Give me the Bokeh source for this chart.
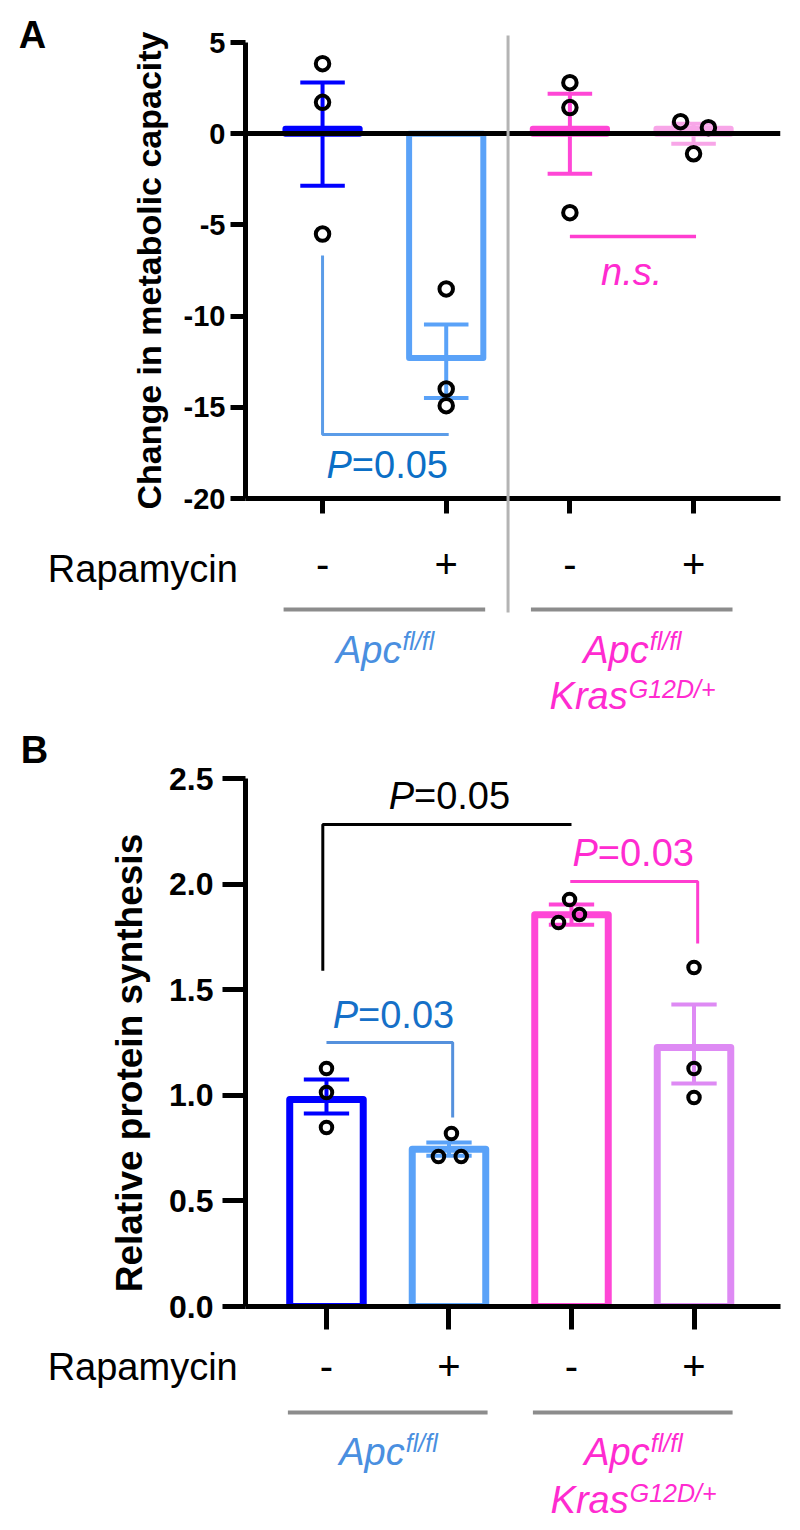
from bokeh.plotting import figure
from bokeh.layouts import column
from bokeh.models import FixedTicker, PrintfTickFormatter
from bokeh.core.properties import value
from bokeh.embed import file_html
from bokeh.resources import INLINE

FONT = "Liberation Sans"

# ---------------- data ----------------
categories = [1, 2, 3, 4]
rapamycin = ["-", "+", "-", "+"]
geno_main = [["Apc"], ["Apc", "Kras"]]
geno_sup = [["fl/fl"], ["fl/fl", "G12D/+"]]
geno_center = [1.5, 3.5]
geno_color = ["#4a8fe0", "#ff2bd0"]

# Panel A: change in metabolic capacity
a_ticks = [-20, -15, -10, -5, 0, 5]
a_mean = [0.27, -12.3, 0.27, 0.27]
a_err_hi = [2.81, -10.46, 2.19, 0.55]
a_err_lo = [-2.85, -14.49, -2.19, -0.55]
a_pts = [[3.84, 1.72, -5.50], [-8.51, -14.00, -14.91], [2.80, 1.43, -4.33], [0.66, 0.33, -1.10]]
a_jit = [[0, 0, 0], [0, 0, 0], [0, 0, 0], [-0.105, 0.12, 0.0]]
a_colors = ["#0000ff", "#5aa2f8", "#ff47d6", "#f8a6e8"]

# Panel B: relative protein synthesis
b_ticks = [0.0, 0.5, 1.0, 1.5, 2.0, 2.5]
b_mean = [0.98, 0.745, 1.855, 1.226]
b_err_hi = [1.075, 0.776, 1.903, 1.43]
b_err_lo = [0.914, 0.714, 1.807, 1.056]
b_pts = [[1.127, 1.013, 0.848], [0.71, 0.819, 0.71], [1.818, 1.927, 1.856], [1.605, 1.127, 0.99]]
b_jit = [[0, 0, 0], [-0.086, 0.02, 0.10], [-0.106, -0.016, 0.065], [0, 0, 0]]
b_colors = ["#0000ff", "#5aa2f8", "#ff47d6", "#de8af4"]

NB = "\u00a0"


def style_axes(p, tick_out, ylab_size, ytitle, ytitle_size, ytitle_standoff, y_ticks, fmt,
               x_standoff, y_standoff):
    p.outline_line_color = None
    p.grid.visible = False
    p.background_fill_color = "white"
    p.border_fill_color = "white"
    for ax in (p.xaxis[0], p.yaxis[0]):
        ax.axis_line_width = 5
        ax.axis_line_color = "black"
        ax.major_tick_line_width = 5
        ax.major_tick_line_color = "black"
        ax.major_tick_out = tick_out
        ax.major_tick_in = 0
        ax.minor_tick_out = 0
        ax.minor_tick_in = 0
        ax.major_label_text_font = FONT
        ax.major_label_text_color = "black"
    xa = p.xaxis[0]
    xa.ticker = FixedTicker(ticks=categories, minor_ticks=[])
    xa.major_label_overrides = {c: r for c, r in zip(categories, rapamycin)}
    xa.major_label_text_font_size = "40px"
    xa.major_label_standoff = x_standoff
    ya = p.yaxis[0]
    ya.ticker = FixedTicker(ticks=y_ticks, minor_ticks=[])
    ya.formatter = PrintfTickFormatter(format=fmt)
    ya.major_label_text_font_size = ylab_size
    ya.major_label_text_font_style = "bold"
    ya.major_label_standoff = y_standoff
    ya.axis_label = ytitle
    ya.axis_label_text_font = FONT
    ya.axis_label_text_font_style = "bold"
    ya.axis_label_text_font_size = ytitle_size
    ya.axis_label_text_color = "black"
    ya.axis_label_standoff = ytitle_standoff


def draw_data(p, mean, hi, lo, colors, bar_lw, cap):
    p.vbar(x=categories, top=mean, bottom=0, width=0.6, fill_color=None,
           line_color=colors, line_width=bar_lw, line_join="round")
    p.segment(x0=categories, y0=lo, x1=categories, y1=hi, line_color=colors, line_width=4)
    p.segment(x0=[c - cap for c in categories], y0=hi, x1=[c + cap for c in categories], y1=hi,
              line_color=colors, line_width=4)
    p.segment(x0=[c - cap for c in categories], y0=lo, x1=[c + cap for c in categories], y1=lo,
              line_color=colors, line_width=4)


def draw_points(p, pts, jit, pt_size):
    xs = [c + j for c, js in zip(categories, jit) for j in js]
    ys = [v for grp in pts for v in grp]
    p.scatter(xs, ys, size=pt_size, fill_color=None, line_color="black", line_width=4)


def make_txt(p, upp):
    # upp: data units per screen pixel on the y axis (baseline correction)
    def txt(x, y, text, size, style="normal", color="black", align="left", x_offset=0):
        px = float(size.replace("px", ""))
        p.text(x=[x], y=[y + 0.34 * px * upp], text=[text], x_offset=x_offset,
               text_font=value(FONT), text_font_size=value(size), text_font_style=value(style),
               text_color=color, text_align=value(align), text_baseline=value("alphabetic"),
               level="overlay")
    return txt


def p_text(txt, x, y, num, color):
    txt(x, y, "P", "38px", "italic", color, "right", -35)
    txt(x, y, "=" + num, "38px", "normal", color, "left", -35)


def genotype_labels(txt, base_main, base_sup):
    for gi, center in enumerate(geno_center):
        for li, (m, s) in enumerate(zip(geno_main[gi], geno_sup[gi])):
            off = 17 if m == "Apc" else -4
            txt(center, base_main[li], m, "38px", "italic", geno_color[gi], "right", off)
            txt(center, base_sup[li], s, "25px", "italic", geno_color[gi], "left", off + 1)


def group_lines(p, y):
    p.segment(x0=[c - 0.815 for c in geno_center], y0=[y] * len(geno_center),
              x1=[c + 0.815 for c in geno_center], y1=[y] * len(geno_center),
              line_color="#8c8c8c", line_width=4, level="overlay")


# ---------------- Panel A ----------------
pa = figure(width=800, height=728, x_range=(0.377, 4.703), y_range=(-20, 5), output_backend="svg",
            toolbar_location=None, min_border_left=245, min_border_right=20,
            min_border_top=42, min_border_bottom=230)
style_axes(pa, 15, "29px", "Change in metabolic capacity", "34px", 13, a_ticks, "%d", 36, 5)
ta = make_txt(pa, 25.0 / 456.0)
draw_data(pa, a_mean, a_err_hi, a_err_lo, a_colors, 6, 0.18)
pa.hspan(y=[0], line_color="black", line_width=5)
pa.multi_line(xs=[[1.0, 1.0, 2.02]], ys=[[-6.68, -16.49, -16.49]], line_color="#5b9ce8", line_width=3)
pa.segment(x0=[3.0], y0=[-5.64], x1=[4.02], y1=[-5.64], line_color="#ff3dd0", line_width=3.5)
draw_points(pa, a_pts, a_jit, 13.5)
p_text(ta, 1.52, -18.85, "0.05", "#0b6fc6")
ta(3.5, -8.27, "n.s.", "38px", "italic", "#ff2bd0", "center")
pa.segment(x0=[2.5], y0=[5.38], x1=[2.5], y1=[-26.25], line_color="#b4b4b4", line_width=3,
           level="overlay")
ta(-1.456, 4.73, "A", "38px", "bold")
ta(-1.221, -24.55, "Rapamycin", "38px")
group_lines(pa, -26.09)
genotype_labels(ta, [-28.99, -31.51], [-28.27, -30.91])

# ---------------- Panel B ----------------
pb = figure(width=800, height=802, x_range=(0.339, 4.706), y_range=(0, 2.5), output_backend="svg",
            toolbar_location=None, min_border_left=245, min_border_right=20,
            min_border_top=50, min_border_bottom=224)
style_axes(pb, 23, "32px", "Relative protein synthesis" + NB * 4, "37px", 16, b_ticks, "%.1f", 22, 9)
tb = make_txt(pb, 2.5 / 528.0)
draw_data(pb, b_mean, b_err_hi, b_err_lo, b_colors, 7, 0.185)
pb.multi_line(xs=[[0.97, 0.97, 3.0]], ys=[[1.59, 2.282, 2.282]], line_color="black", line_width=3)
pb.multi_line(xs=[[2.99, 4.03, 4.03]], ys=[[2.012, 2.012, 1.719]], line_color="#ff3dd0", line_width=3)
pb.multi_line(xs=[[1.0, 2.03, 2.03]], ys=[[1.25, 1.25, 0.895]], line_color="#5591dd", line_width=3)
draw_points(pb, b_pts, b_jit, 11.5)
p_text(tb, 2.0, 2.358, "0.05", "black")
p_text(tb, 3.5, 2.088, "0.03", "#ff2bd0")
p_text(tb, 1.543, 1.321, "0.03", "#1670c8")
tb(-1.496, 2.576, "B", "38px", "bold")
tb(-1.276, -0.3456, "Rapamycin", "38px")
group_lines(pb, -0.502)
genotype_labels(tb, [-0.748, -0.975], [-0.687, -0.923])

layout = column(pa, pb, spacing=0)
open("out.html", "w").write(file_html(layout, INLINE))
